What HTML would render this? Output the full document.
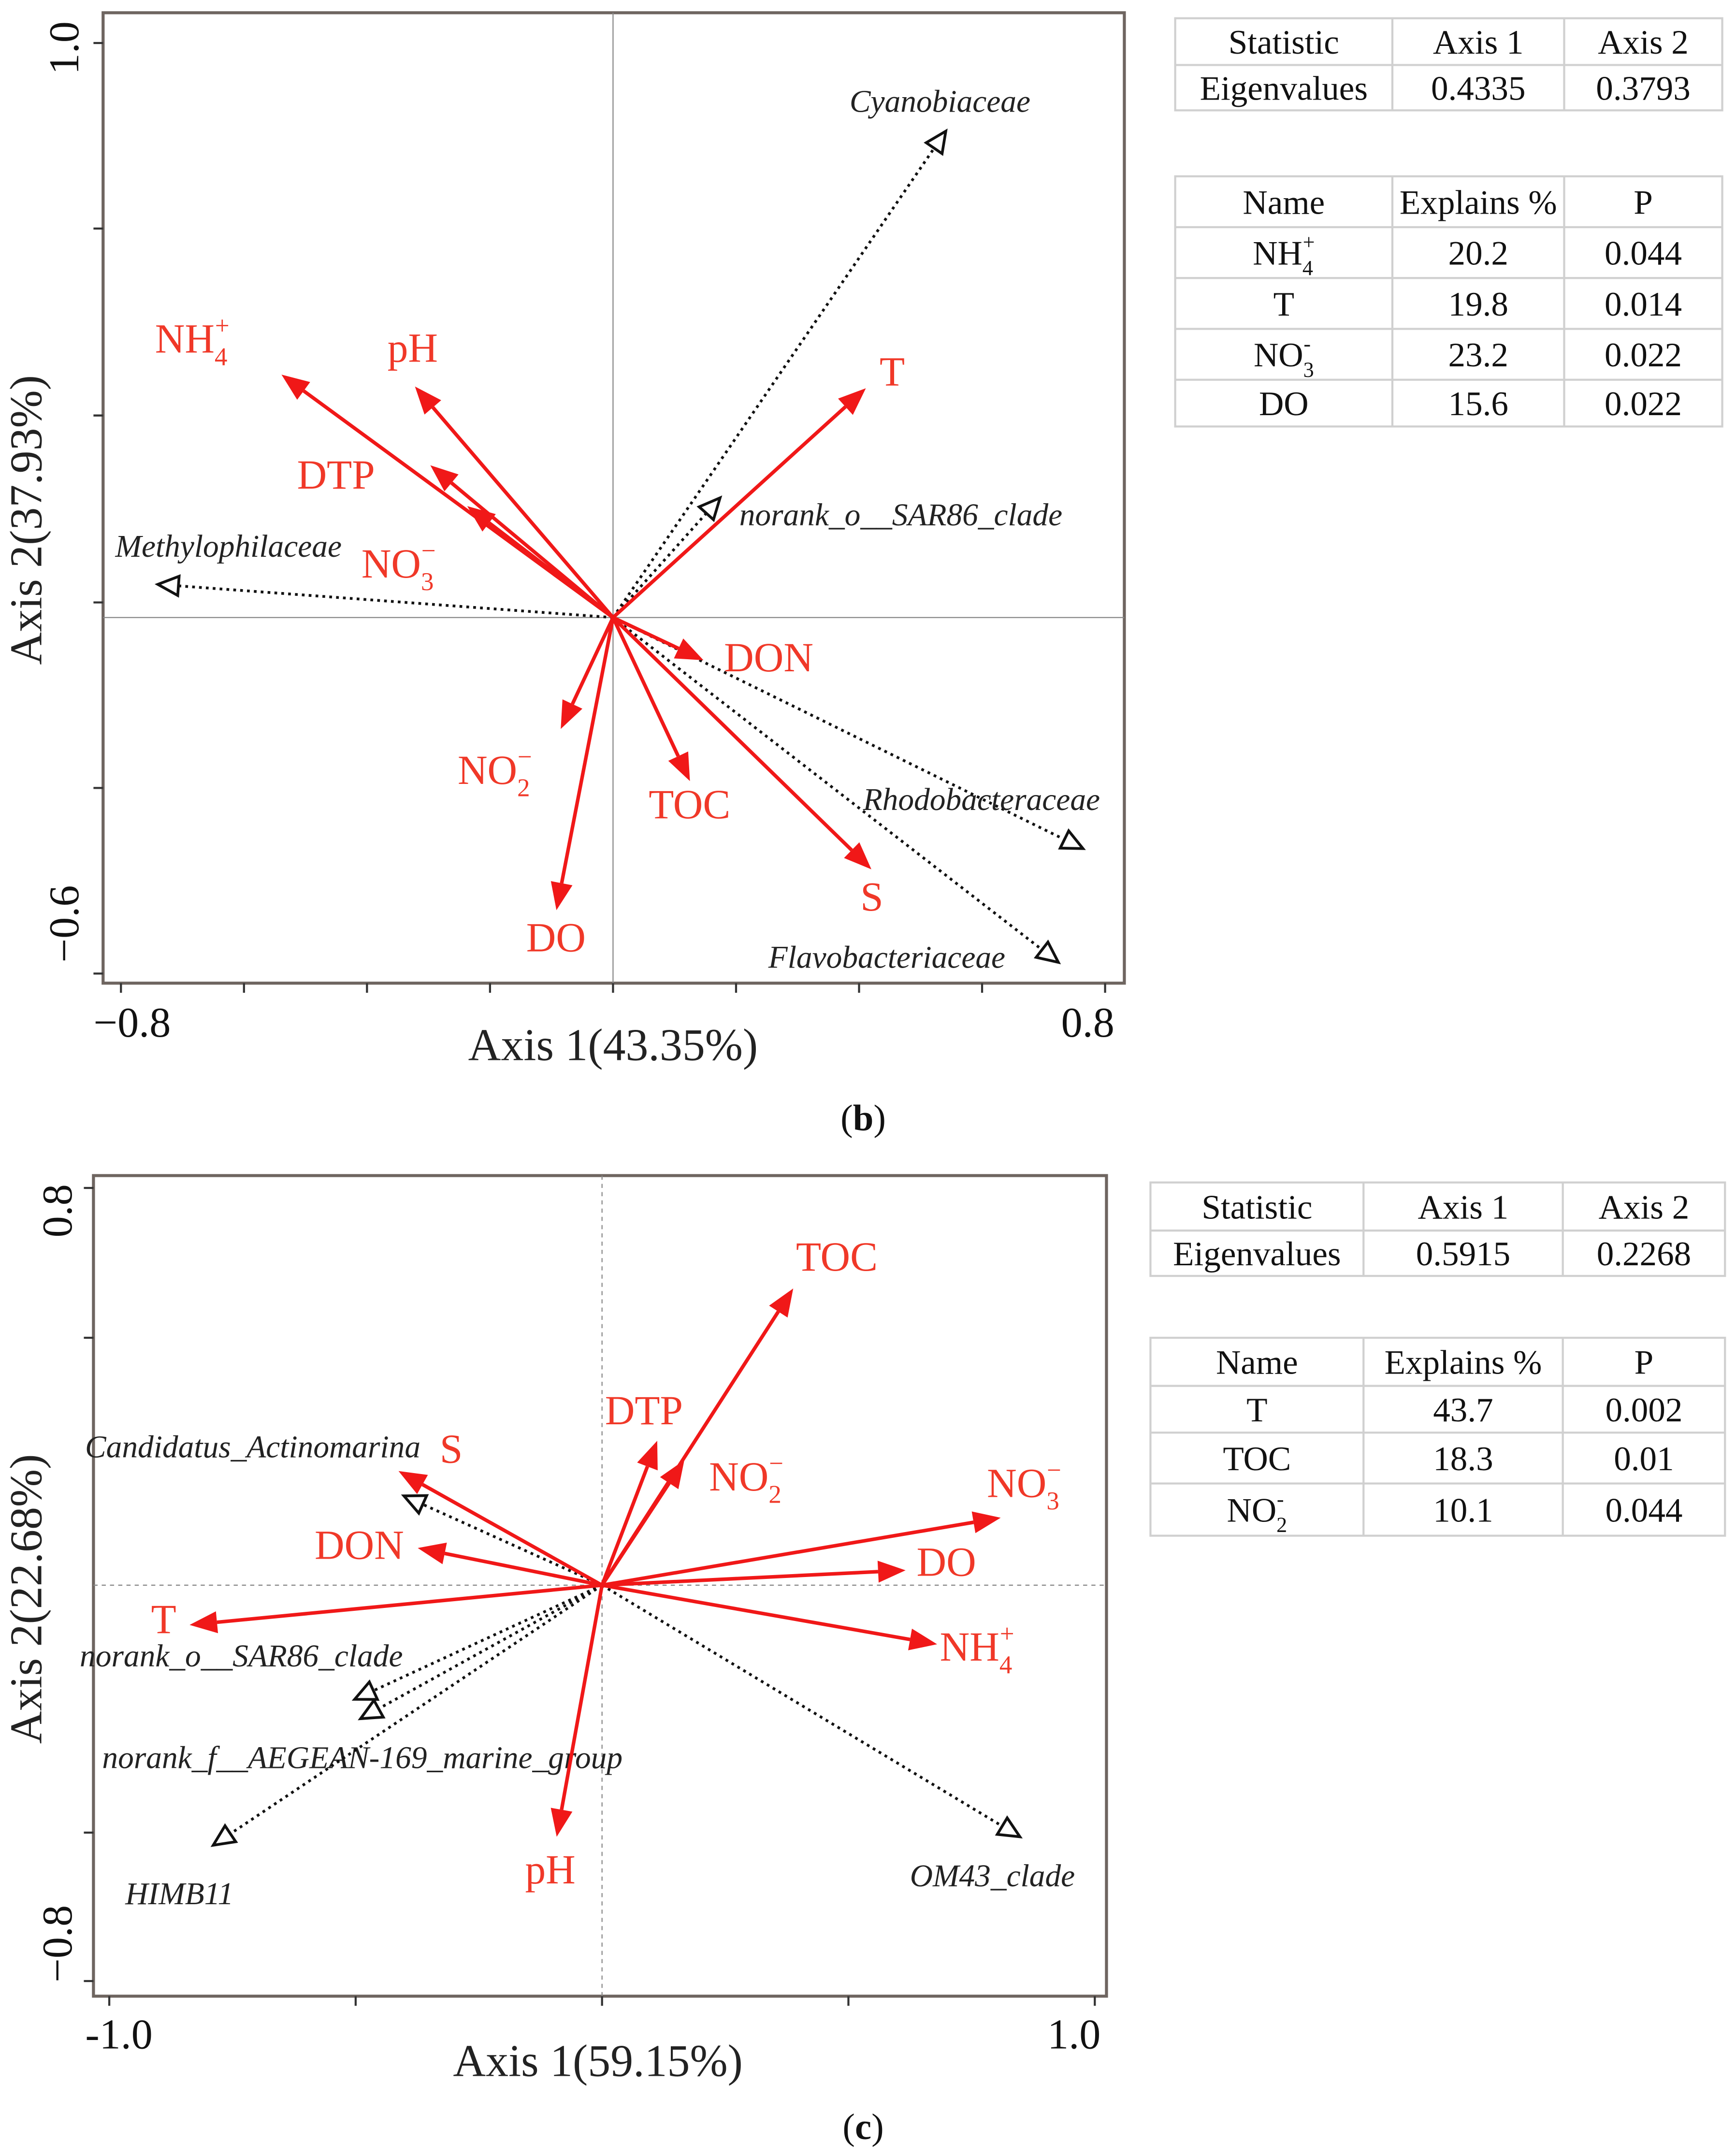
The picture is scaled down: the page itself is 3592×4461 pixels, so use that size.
<!DOCTYPE html>
<html><head><meta charset="utf-8"><style>
html,body{margin:0;padding:0;background:#fff;}
svg{display:block;}
svg text{font-family:"Liberation Serif",serif;}
</style></head><body>
<svg id="svg" width="3592" height="4461" viewBox="0 0 1263 1568" xmlns="http://www.w3.org/2000/svg" font-family="Liberation Serif, serif">
<g id="panelB"></g>
<g id="panelC"></g>
</svg>
<script>
// ---- Panel b data ----
const bEnvNames = ["NH4","pH","DTP","NO3","T","DON","NO2","TOC","DO","S"];
const bEnvX = [-0.539,-0.322,-0.297,-0.237,0.411,0.147,-0.085,0.125,-0.092,0.42];
const bEnvY = [0.41,0.39,0.257,0.188,0.387,-0.072,-0.188,-0.276,-0.494,-0.425];
const bSpNames = ["Cyanobiaceae","norank_o__SAR86_clade","Methylophilaceae","Rhodobacteraceae","Flavobacteriaceae"];
const bSpX = [0.541,0.174,-0.74,0.764,0.724];
const bSpY = [0.821,0.202,0.056,-0.39,-0.582];
const bStat = [["Statistic","Axis 1","Axis 2"],["Eigenvalues","0.4335","0.3793"]];
const bTest = [["Name","Explains %","P"],["NH4+","20.2","0.044"],["T","19.8","0.014"],["NO3-","23.2","0.022"],["DO","15.6","0.022"]];
// ---- Panel c data ----
const cEnvNames = ["TOC","DTP","NO2","NO3","DO","NH4","pH","T","DON","S"];
const cEnvX = [0.388,0.112,0.167,0.809,0.616,0.68,-0.092,-0.837,-0.374,-0.413];
const cEnvY = [0.598,0.291,0.252,0.136,0.03,-0.119,-0.507,-0.08,0.075,0.23];
const cSpNames = ["Candidatus_Actinomarina","norank_o__SAR86_clade","norank_f__AEGEAN-169_marine_group","HIMB11","OM43_clade"];
const cSpX = [-0.402,-0.502,-0.49,-0.789,0.848];
const cSpY = [0.18,-0.23,-0.269,-0.524,-0.507];
const cStat = [["Statistic","Axis 1","Axis 2"],["Eigenvalues","0.5915","0.2268"]];
const cTest = [["Name","Explains %","P"],["T","43.7","0.002"],["TOC","18.3","0.01"],["NO2-","10.1","0.044"]];

const NS="http://www.w3.org/2000/svg";
const SERIF="Liberation Serif, serif";
function mk(parent,tag,attrs){const e=document.createElementNS(NS,tag);for(const k in attrs)e.setAttribute(k,attrs[k]);if(tag==="text"&&!attrs["font-family"])e.setAttribute("font-family",SERIF);parent.appendChild(e);return e;}
function chemHTML(t,el,fs){
  const m={"NH4":["NH","4","+"],"NO3":["NO","3","\u2212"],"NO2":["NO","2","\u2212"],"NH4+":["NH","4","+"],"NO3-":["NO","3","-"],"NO2-":["NO","2","-"]};
  if(m[t]){el.textContent="";
    const a=document.createElementNS(NS,"tspan");a.textContent=m[t][0];el.appendChild(a);
    const b=document.createElementNS(NS,"tspan");b.setAttribute("dy",fs*0.3);b.setAttribute("font-size",fs*0.62);b.textContent=m[t][1];el.appendChild(b);
    const c=document.createElementNS(NS,"tspan");c.setAttribute("dy",-fs*0.75);c.setAttribute("dx",-fs*0.3);c.setAttribute("font-size",fs*0.62);c.textContent=m[t][2];el.appendChild(c);
  } else el.textContent=t;
}
function openTri(g,x1,y1,x2,y2){
  const a=Math.atan2(y2-y1,x2-x1),L=15,W=7;
  const bx=x2-L*Math.cos(a),by=y2-L*Math.sin(a);
  const p=[[x2,y2],[bx+W*Math.sin(a),by-W*Math.cos(a)],[bx-W*Math.sin(a),by+W*Math.cos(a)]];
  return mk(g,"polygon",{points:p.map(q=>q.join(",")).join(" "),fill:"#fff",stroke:"#111","stroke-width":2});
}
function redArrow(g,x1,y1,x2,y2){
  const a=Math.atan2(y2-y1,x2-x1),L=20,W=8;
  const bx=x2-L*Math.cos(a),by=y2-L*Math.sin(a);
  const ln=mk(g,"line",{x1,y1,x2:bx,y2:by,stroke:"#f01818","stroke-width":2.6});
  const p=[[x2,y2],[bx+W*Math.sin(a),by-W*Math.cos(a)],[bx-W*Math.sin(a),by+W*Math.cos(a)]];
  const h=mk(g,"polygon",{points:p.map(q=>q.join(",")).join(" "),fill:"#f01818"});
  return [ln,h];
}
function table(g,colX,rowY,rows,name,fs){
  const t=mk(g,"g",{});
  
  
  mk(t,"rect",{x:colX[0],y:rowY[0],width:colX[colX.length-1]-colX[0],height:rowY[rowY.length-1]-rowY[0],fill:"none",stroke:"#d0d0d0","stroke-width":1.5});
  for(let i=1;i<colX.length-1;i++) mk(t,"line",{x1:colX[i],x2:colX[i],y1:rowY[0],y2:rowY[rowY.length-1],stroke:"#d0d0d0","stroke-width":1.5});
  for(let i=1;i<rowY.length-1;i++) mk(t,"line",{x1:colX[0],x2:colX[colX.length-1],y1:rowY[i],y2:rowY[i],stroke:"#d0d0d0","stroke-width":1.5});
  rows.forEach((r,ri)=>r.forEach((c,ci)=>{
    const tx=mk(t,"text",{x:(colX[ci]+colX[ci+1])/2,y:(rowY[ri]+rowY[ri+1])/2+fs*0.35,"text-anchor":"middle","font-size":fs,fill:"#111"});
    
    
    chemHTML(c,tx,fs);
  }));
}
function panel(cfg){
  const g=document.getElementById(cfg.id);
  const sx=v=>cfg.ox+v*cfg.kx, sy=v=>cfg.oy-v*cfg.ky;
  const fr=mk(g,"rect",{x:cfg.fx0,y:cfg.fy0,width:cfg.fx1-cfg.fx0,height:cfg.fy1-cfg.fy0,fill:"none",stroke:"#6e6560","stroke-width":2.2});
   
  const cx=mk(g,"line",{x1:cfg.ox,x2:cfg.ox,y1:cfg.fy0,y2:cfg.fy1,stroke:"#888","stroke-width":0.8,"stroke-dasharray":cfg.dash});
   
  const cy=mk(g,"line",{x1:cfg.fx0,x2:cfg.fx1,y1:cfg.oy,y2:cfg.oy,stroke:"#888","stroke-width":0.8,"stroke-dasharray":cfg.dash});
   
  cfg.xt.forEach(v=>{const t=mk(g,"line",{x1:sx(v),x2:sx(v),y1:cfg.fy1,y2:cfg.fy1+7,stroke:"#333","stroke-width":1.5});});
  cfg.yt.forEach(yy=>{const t=mk(g,"line",{x1:cfg.fx0-7,x2:cfg.fx0,y1:yy,y2:yy,stroke:"#333","stroke-width":1.5});});
  const SANS="Liberation Sans, sans-serif";
  let l;
  l=mk(g,"text",{x:cfg.xlab[0][0],y:cfg.xlab[0][1],"font-size":31,"font-family":SANS,fill:"#111"});l.textContent=cfg.xlab[0][2];
  l=mk(g,"text",{x:cfg.xlab[1][0],y:cfg.xlab[1][1],"font-size":31,"font-family":SANS,fill:"#111"});l.textContent=cfg.xlab[1][2];
  l=mk(g,"text",{x:0,y:0,"font-size":31,"font-family":SANS,fill:"#111",transform:`translate(${cfg.ylab[0][0]},${cfg.ylab[0][1]}) rotate(-90)`});l.textContent=cfg.ylab[0][2];
  l=mk(g,"text",{x:0,y:0,"font-size":31,"font-family":SANS,fill:"#111",transform:`translate(${cfg.ylab[1][0]},${cfg.ylab[1][1]}) rotate(-90)`});l.textContent=cfg.ylab[1][2];
  l=mk(g,"text",{x:cfg.xtitle[0],y:cfg.xtitle[1],"font-size":33,"text-anchor":"middle",fill:"#222"});l.textContent=cfg.xtitle[2];
  l=mk(g,"text",{x:0,y:0,"font-size":33,"text-anchor":"middle",fill:"#222",transform:`translate(${cfg.ytitle[0]},${cfg.ytitle[1]}) rotate(-90)`});l.textContent=cfg.ytitle[2];
  l=mk(g,"text",{x:cfg.cap[0],y:cfg.cap[1],"font-size":27,"text-anchor":"middle",fill:"#111"});l.innerHTML=cfg.cap[2];
  cfg.spN.forEach((n,i)=>{
    const x=sx(cfg.spX[i]),y=sy(cfg.spY[i]);
    const ln=mk(g,"line",{x1:cfg.ox,y1:cfg.oy,x2:x,y2:y,stroke:"#111","stroke-width":2,"stroke-dasharray":"2,3"});
     
    const tri=openTri(g,cfg.ox,cfg.oy,x,y);
     
    const o=cfg.spOff[i];
    const t=mk(g,"text",{x:x+o[0],y:y+o[1],"font-size":23,"font-style":"italic",fill:"#222"});
    t.textContent=n;  
  });
  cfg.envN.forEach((n,i)=>{
    const x=sx(cfg.envX[i]),y=sy(cfg.envY[i]);
    const [ln,h]=redArrow(g,cfg.ox,cfg.oy,x,y);
     
     
    const o=cfg.envOff[i];
    const t=mk(g,"text",{x:x+o[0],y:y+o[1],"font-size":30,fill:"#f03828"});
    chemHTML(n,t,30);  
  });
  table(g,cfg.t1c,cfg.t1r,cfg.t1,"eigenvalue-table",25);
  table(g,cfg.t2c,cfg.t2r,cfg.t2,"variable-test-table",25);
}
panel({id:"panelB",ox:446,oy:449,kx:447.5,ky:431,fx0:75,fx1:818,fy0:9,fy1:715,dash:"none",
  xt:[-0.8,-0.6,-0.4,-0.2,0,0.2,0.4,0.6,0.8],yt:[31,166,302,438,573,708],
  xlab:[[68,754,"\u22120.8"],[772,754,"0.8"]],ylab:[[57,54,"1.0"],[57,700,"\u22120.6"]],
  xtitle:[446,771,"Axis 1(43.35%)"],ytitle:[30,378,"Axis 2(37.93%)"],cap:[628,822,"(<tspan font-weight='bold'>b</tspan>)"],
  envN:bEnvNames,envX:bEnvX,envY:bEnvY,
  envOff:[[-92,-16],[-20,-18],[-97,17],[-77,52],[10,-2],[15,8],[-75,40],[-30,27],[-22,30],[-8,30]],
  spN:bSpNames,spX:bSpX,spY:bSpY,
  spOff:[[-70,-14],[14,20],[-31,-20],[-160,-28],[-211,4]],
  t1c:[855,1013,1138,1253],t1r:[13,47,80],t1:bStat,
  t2c:[855,1013,1138,1253],t2r:[128,165,202,239,276,310],t2:bTest});
panel({id:"panelC",ox:438,oy:1153,kx:358.5,ky:361,fx0:68,fx1:805,fy0:855,fy1:1452,dash:"3,3",
  xt:[-1,-0.5,0,0.5,1],yt:[864,973,1333,1441],
  xlab:[[62,1490,"-1.0"],[762,1490,"1.0"]],ylab:[[52,900,"0.8"],[52,1442,"\u22120.8"]],
  xtitle:[435,1510,"Axis 1(59.15%)"],ytitle:[30,1163,"Axis 2(22.68%)"],cap:[628,1556,"(<tspan font-weight='bold'>c</tspan>)"],
  envN:cEnvNames,envX:cEnvX,envY:cEnvY,
  envOff:[[2,-13],[-38,-12],[18,22],[-10,-15],[8,4],[2,12],[-23,34],[-28,6],[-75,8],[30,-6]],
  spN:cSpNames,spX:cSpX,spY:cSpY,
  spOff:[[-232,-28],[-200,-24],[-188,36],[-64,43],[-80,36]],
  t1c:[837,992,1137,1255],t1r:[860,895,928],t1:cStat,
  t2c:[837,992,1137,1255],t2r:[973,1008,1042,1079,1117],t2:cTest});
</script>
</body></html>
